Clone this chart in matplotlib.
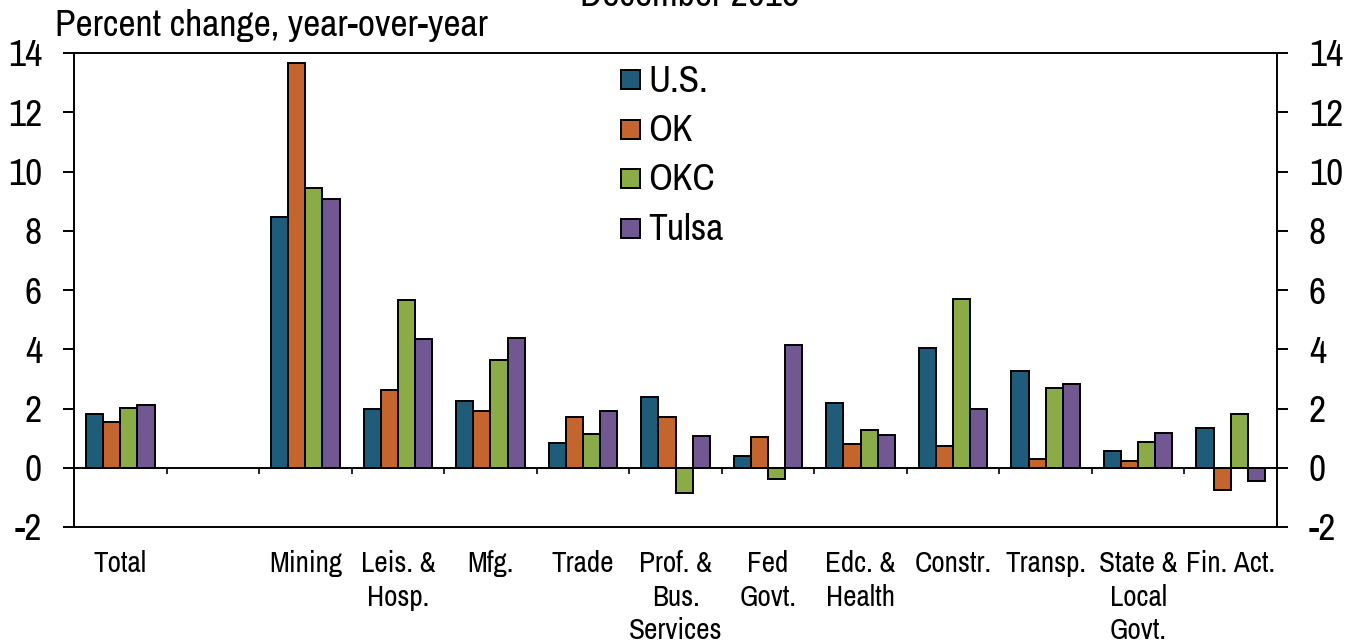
import matplotlib
matplotlib.use("Agg")
import matplotlib.pyplot as plt
from matplotlib.patches import Rectangle
import numpy as np
import logging
logging.getLogger('matplotlib.font_manager').setLevel(logging.ERROR)

categories = ["Total", "", "Mining", "Leis. &\nHosp.", "Mfg.", "Trade", "Prof. &\nBus.\nServices",
              "Fed\nGovt.", "Edc. &\nHealth", "Constr.", "Transp.", "State &\nLocal\nGovt.", "Fin. Act."]
us = [1.8, np.nan, 8.45, 2.0, 2.25, 0.82, 2.38, 0.38, 2.2, 4.03, 3.27, 0.55, 1.33]
ok = [1.53, np.nan, 13.65, 2.62, 1.93, 1.72, 1.7, 1.03, 0.8, 0.75, 0.28, 0.22, -0.75]
okc = [2.03, np.nan, 9.45, 5.67, 3.63, 1.15, -0.85, -0.38, 1.28, 5.68, 2.7, 0.87, 1.8]
tulsa = [2.12, np.nan, 9.08, 4.33, 4.38, 1.92, 1.07, 4.15, 1.12, 2.0, 2.82, 1.17, -0.45]
series_names = ["U.S.", "OK", "OKC", "Tulsa"]
colors = ["#1F5C7A", "#C4652D", "#8AAB45", "#725892"]
yticks = [-2, 0, 2, 4, 6, 8, 10, 12, 14]

plt.rcParams['font.family'] = ['Archivo Narrow', 'Liberation Sans', 'DejaVu Sans']
W, H = 1353, 642
fig = plt.figure(figsize=(W/100, H/100), dpi=100)
ax = fig.add_axes([74/W, 1-527/H, (1277-74)/W, (527-53)/H])
x = np.arange(len(categories))
bw = 0.185
for i, (vals, c, n) in enumerate(zip([us, ok, okc, tulsa], colors, series_names)):
    ax.bar(x + (i-1.5)*bw, vals, bw, color=c, edgecolor="black", linewidth=1.4, label=n)
ax.set_xlim(-0.5, len(categories)-0.5)
ax.set_ylim(-2, 14)
ax.set_yticks(yticks)
ax.set_yticklabels([str(t) for t in yticks], fontsize=27)
ax.tick_params(axis='y', direction='out', length=8, width=1.4, pad=15, right=True, labelright=True)
for s in ax.spines.values():
    s.set_linewidth(1.4)
ax.axhline(0, color="black", linewidth=1.4)
ax.set_xticks([])
ax.vlines(np.arange(len(categories)+1)-0.5, -0.22, 0, color="black", linewidth=1.2)
for xi, lab in zip(x, categories):
    ax.text(xi, -2.78, lab, ha='center', va='top', fontsize=21, linespacing=1.3)
fig.text(55/W, 1-26/H, "Percent change, year-over-year", fontsize=27, va='center', ha='left')
fig.text(690/W, 1-(-5)/H, "December 2015", fontsize=27, va='center', ha='center')
for n, c, yp in zip(series_names, colors, [79.5, 129, 178, 228]):
    fig.add_artist(Rectangle((621/W, 1-(yp+9.5)/H), 19/W, 19/H, transform=fig.transFigure,
                             facecolor=c, edgecolor="black", linewidth=1.4))
    fig.text(648/W, 1-(yp+1.5)/H, n, fontsize=27, va='center', ha='left')
fig.savefig("out.png", dpi=100)
